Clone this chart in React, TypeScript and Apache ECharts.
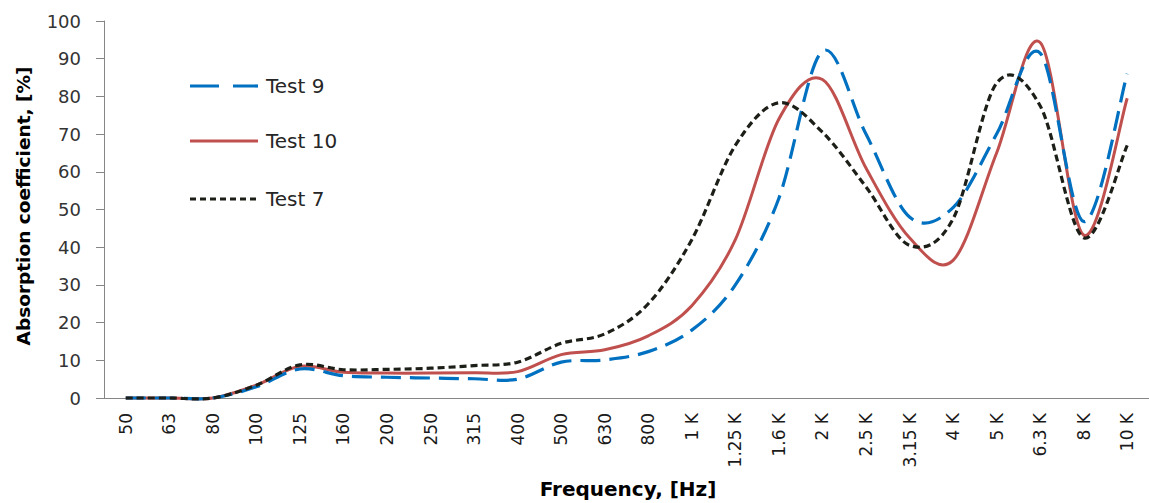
import React, { useEffect, useRef } from "react";
import * as echarts from "echarts";

const categories = ["50", "63", "80", "100", "125", "160", "200", "250", "315", "400", "500", "630", "800", "1 K", "1.25 K", "1.6 K", "2 K", "2.5 K", "3.15 K", "4 K", "5 K", "6.3 K", "8 K", "10 K"];
const test9 = [0, 0, 0, 3, 7.7, 5.9, 5.5, 5.3, 5.1, 5, 9.5, 10.1, 12.3, 18, 30, 53, 92, 70, 48, 50.5, 70, 91.5, 46.8, 86];
const test10 = [0, 0, 0, 3.4, 8.4, 6.8, 6.6, 6.6, 6.7, 7, 11.5, 12.8, 16.5, 24.5, 42, 74, 84.5, 61, 42.5, 36.5, 65, 94.3, 43.2, 79.5];
const test7 = [0, 0, 0, 3.4, 8.8, 7.5, 7.6, 7.9, 8.6, 9.5, 14.5, 17, 25, 42, 67, 78.3, 70.5, 56, 40.5, 47.5, 83.5, 77.5, 42.5, 67];
const yTicks = { min: 0, max: 100, interval: 10 };
const seriesNames = ["Test 9", "Test 10", "Test 7"];

const FONT = '"DejaVu Sans", sans-serif';

const STYLES = [
  { color: "#0070C0", width: 3.2, dash: [20, 9] as number[] | null, legendDash: [29, 14] as number[] | null },
  { color: "#C0504D", width: 3, dash: null as number[] | null, legendDash: null as number[] | null },
  { color: "#1C1F17", width: 3.2, dash: [7, 4] as number[] | null, legendDash: [6, 4] as number[] | null },
];

function makeRenderItem(values: number[], style: { color: string; width: number; dash: number[] | null }) {
  return (params: any, api: any) => {
    if (params.dataIndex !== 0) return null;
    const pts = values.map((v, i) => api.coord([i, v]));
    const n = pts.length;
    let d = `M${pts[0][0]},${pts[0][1]}`;
    for (let i = 0; i < n - 1; i++) {
      const p0 = pts[Math.max(0, i - 1)];
      const p1 = pts[i];
      const p2 = pts[i + 1];
      const p3 = pts[Math.min(n - 1, i + 2)];
      const c1x = p1[0] + (p2[0] - p0[0]) / 6;
      const c1y = p1[1] + (p2[1] - p0[1]) / 6;
      const c2x = p2[0] - (p3[0] - p1[0]) / 6;
      const c2y = p2[1] - (p3[1] - p1[1]) / 6;
      d += ` C${c1x},${c1y} ${c2x},${c2y} ${p2[0]},${p2[1]}`;
    }
    return {
      type: "path",
      shape: { pathData: d },
      style: {
        fill: "none",
        stroke: style.color,
        lineWidth: style.width,
        lineDash: style.dash || undefined,
        lineCap: "butt",
        lineJoin: "round",
      },
    };
  };
}

export default function App() {
  const ref = useRef<HTMLDivElement>(null);
  useEffect(() => {
    if (!ref.current) return;
    const chart = echarts.init(ref.current, null, { renderer: "svg" });
    const allValues = [test9, test10, test7];
    const legendTops = [86, 141, 199];
    const legendGraphics: any[] = [];
    seriesNames.forEach((name, k) => {
      const st = STYLES[k];
      legendGraphics.push({
        type: "line",
        shape: { x1: 190, y1: legendTops[k], x2: 258, y2: legendTops[k] },
        style: { stroke: st.color, lineWidth: st.width, lineDash: st.legendDash || undefined },
      });
      legendGraphics.push({
        type: "text",
        x: 266,
        y: legendTops[k],
        style: {
          text: name,
          font: `20px ${FONT}`,
          fill: "#262626",
          textVerticalAlign: "middle",
          verticalAlign: "middle",
        },
      });
    });
    chart.setOption({
      animation: false,
      backgroundColor: "#fff",
      grid: { left: 104, top: 21, bottom: 105, right: -6, containLabel: false },
      xAxis: {
        type: "category",
        data: categories,
        boundaryGap: true,
        axisLine: { lineStyle: { color: "#868686", width: 1 } },
        axisTick: { alignWithLabel: true, length: 6, lineStyle: { color: "#868686" } },
        axisLabel: { rotate: 90, margin: 15, fontFamily: FONT, fontSize: 17, color: "#1a1a1a", interval: 0 },
        splitLine: { show: false },
      },
      yAxis: {
        type: "value",
        min: yTicks.min,
        max: yTicks.max,
        interval: yTicks.interval,
        axisLine: { show: true, lineStyle: { color: "#868686", width: 1 } },
        axisTick: { show: true, length: 8, lineStyle: { color: "#868686" } },
        axisLabel: { margin: 23, fontFamily: FONT, fontSize: 18, color: "#333" },
        splitLine: { show: false },
      },
      series: allValues.map((vals, k) => ({
        name: seriesNames[k],
        type: "custom",
        data: vals.map((v, i) => [i, v]),
        renderItem: makeRenderItem(vals, STYLES[k]),
        encode: { x: 0, y: 1 },
        z: [3, 2, 4][k],
        silent: true,
      })),
      graphic: [
        ...legendGraphics,
        {
          type: "text",
          x: 23,
          y: 206,
          rotation: Math.PI / 2,
          style: {
            text: "Absorption coefficient, [%]",
            font: 'bold 18.5px "DejaVu Sans", sans-serif',
            fill: "#000",
            textAlign: "center",
            textVerticalAlign: "middle",
            align: "center",
            verticalAlign: "middle",
          },
        },
        {
          type: "text",
          x: 628,
          y: 489,
          style: {
            text: "Frequency, [Hz]",
            font: 'bold 20px "DejaVu Sans", sans-serif',
            fill: "#000",
            textAlign: "center",
            textVerticalAlign: "middle",
            align: "center",
            verticalAlign: "middle",
          },
        },
      ],
    });
    return () => chart.dispose();
  }, []);
  return <div ref={ref} style={{ position: "fixed", left: 0, top: 0, width: 1149, height: 503 }} />;
}
